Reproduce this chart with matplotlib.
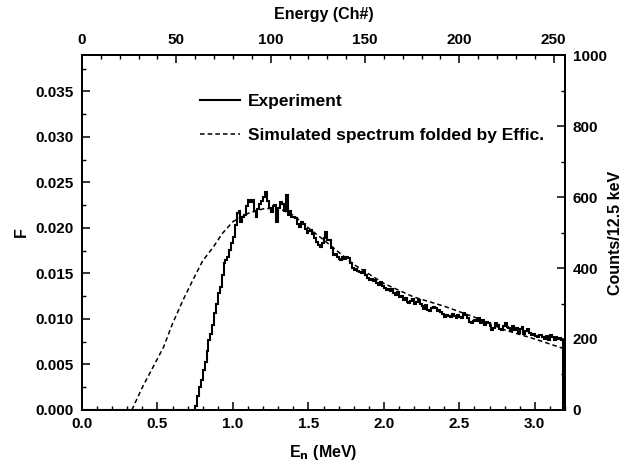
import numpy as np
import matplotlib
matplotlib.use("Agg")
import matplotlib.pyplot as plt
from matplotlib.ticker import MultipleLocator, FormatStrFormatter

plt.rcParams["font.family"] = ["Liberation Sans", "DejaVu Sans"]
plt.rcParams["font.weight"] = "bold"

KEV_PER_CH = 12.5
N_CH = 256
FIRST_CH = 60

# measured counts per channel, channels 60..255 (below 60 empty)
exp_counts = [
    10, 40, 65, 85, 113, 135, 165, 197, 215, 240,
    273, 300, 330, 346, 380, 414, 423, 430, 451, 470,
    487, 520, 555, 560, 530, 545, 550, 575, 592, 585,
    592, 560, 545, 565, 580, 590, 600, 614, 590, 570,
    558, 575, 577, 530, 570, 585, 580, 560, 606, 549,
    560, 545, 544, 540, 525, 515, 530, 525, 510, 499,
    505, 507, 495, 485, 473, 465, 459, 470, 485, 501,
    480, 479, 455, 437, 440, 430, 425, 423, 430, 425,
    432, 428, 415, 400, 394, 398, 392, 389, 385, 395,
    380, 372, 366, 370, 362, 366, 358, 352, 360, 348,
    345, 338, 342, 335, 340, 330, 325, 332, 318, 322,
    310, 315, 305, 301, 308, 312, 300, 305, 310, 298,
    292, 285, 295, 282, 280, 288, 290, 287, 278, 283,
    275, 270, 262, 268, 265, 262, 270, 266, 260, 268,
    262, 258, 273, 268, 260, 248, 245, 252, 254, 250,
    258, 246, 254, 240, 248, 245, 238, 225, 232, 245,
    240, 228, 225, 236, 245, 235, 230, 222, 238, 225,
    230, 218, 228, 234, 215, 222, 228, 218, 212, 215,
    208, 206, 210, 212, 205, 200, 208, 198, 210, 205,
    196, 205, 200, 203, 198, 0,
]

# simulated spectrum folded by efficiency (F units)
sim_e = [0.33, 0.40, 0.47, 0.54, 0.60, 0.67, 0.735, 0.80, 0.87, 0.93,
         1.00, 1.10, 1.20, 1.30, 1.40, 1.50, 1.60, 1.80, 2.00, 2.20,
         2.40, 2.60, 2.80, 3.00, 3.20]
sim_f = [0.0, 0.0025, 0.0047, 0.0069, 0.0095, 0.0121, 0.0143, 0.0164, 0.0179, 0.0194,
         0.0207, 0.0216, 0.0221, 0.0222, 0.0214, 0.0200, 0.0187, 0.0160, 0.0139, 0.0124,
         0.0114, 0.0102, 0.0088, 0.0078, 0.0067]

counts = np.zeros(N_CH)
counts[FIRST_CH:FIRST_CH + len(exp_counts)] = exp_counts
edges = np.arange(N_CH + 1) * KEV_PER_CH / 1000.0

fig = plt.figure(figsize=(6.27, 4.73), dpi=100)
ax = fig.add_axes([0.1308, 0.1332, 0.7703, 0.7505])
ax_r = ax.twinx()
ax_t = ax.twiny()

ax_r.stairs(counts, edges, color="black", lw=1.5, baseline=None)
ax.plot(sim_e, sim_f, color="black", lw=1.1, ls=(0, (3, 2)))

ax.set_xlim(0, 3.2)
ax.set_ylim(0, 0.039)
ax_r.set_ylim(0, 1000)
ax_t.set_xlim(0, N_CH)

ax.xaxis.set_major_locator(MultipleLocator(0.5))
ax.xaxis.set_minor_locator(MultipleLocator(0.1))
ax.yaxis.set_major_locator(MultipleLocator(0.005))
ax.yaxis.set_minor_locator(MultipleLocator(0.0025))
ax.yaxis.set_major_formatter(FormatStrFormatter("%.3f"))
ax.xaxis.set_major_formatter(FormatStrFormatter("%.1f"))
ax_r.yaxis.set_major_locator(MultipleLocator(200))
ax_r.yaxis.set_minor_locator(MultipleLocator(100))
ax_t.xaxis.set_major_locator(MultipleLocator(50))
ax_t.xaxis.set_minor_locator(MultipleLocator(10))

for a in (ax, ax_r, ax_t):
    a.tick_params(which="major", direction="in", length=6, width=1.1, labelsize=11)
    a.tick_params(which="minor", direction="in", length=3, width=1.0)
    for s in a.spines.values():
        s.set_linewidth(1.3)
ax.tick_params(axis="y", which="major", pad=6)
ax.tick_params(axis="x", which="major", pad=5)
ax_r.tick_params(axis="y", which="major", pad=5.5)
ax_t.tick_params(axis="x", which="major", pad=6)

ax.set_xlabel("E$_\\mathbf{n}$ (MeV)", fontsize=11.5, fontweight="bold", labelpad=9)
ax.set_ylabel("F", fontsize=11.5, fontweight="bold", labelpad=5)
ax_t.set_xlabel("Energy (Ch#)", fontsize=11.5, fontweight="bold", labelpad=10)
ax_r.set_ylabel("Counts/12.5 keV", fontsize=11.5, fontweight="bold")
ax_r.yaxis.set_label_coords(1.089, 0.5)

exp_handle = plt.Line2D([], [], color="black", lw=1.5)
sim_handle = ax.lines[0]
ax.legend([exp_handle, sim_handle], ["Experiment", "Simulated spectrum folded by Effic."],
          loc="upper left", bbox_to_anchor=(0.244, 0.89), frameon=False,
          borderpad=0, borderaxespad=0,
          fontsize=12.5, handlelength=2.3, handletextpad=0.45, labelspacing=1.1)

fig.savefig("out.png", dpi=100)
